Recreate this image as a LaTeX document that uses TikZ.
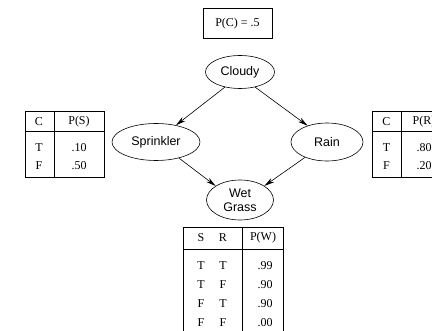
\documentclass[tikz,border=0pt]{standalone}
\usepackage{fontspec}
\setmainfont{Liberation Serif}
\newfontfamily\hv{Liberation Sans}
\usetikzlibrary{arrows.meta,shapes.geometric}
\begin{document}
\begin{tikzpicture}[x=1pt,y=-1pt,
  ell/.style={draw, ellipse, line width=0.6pt, inner sep=0pt, font=\hv\fontsize{12.5}{14}\selectfont, align=center},
  tbox/.style={draw, line width=0.6pt, inner sep=0pt},
  cell/.style={inner sep=0pt, font=\fontsize{12}{13}\selectfont},
  rule/.style={line width=0.6pt},
  link/.style={line width=0.6pt, -{Stealth[length=10pt,width=5pt]}}]
\useasboundingbox (0,0) rectangle (432,331);
\clip (0,0) rectangle (432,331);

% prior of Cloudy
\node[tbox, minimum width=69, minimum height=30, font=\fontsize{12}{13}\selectfont] (pc) at (237.5,23.5) {P(C) = .5};

% network nodes
\node[ell, minimum width=69, minimum height=33] (cloudy) at (240,72) {Cloudy};
\node[ell, minimum width=88, minimum height=37] (spr) at (156,142) {Sprinkler};
\node[ell, minimum width=72, minimum height=38] (rain) at (327,142) {Rain};
\node[ell, minimum width=67, minimum height=40] (wet) at (240,200) {Wet\\Grass};

\draw[link] (cloudy.-135) -- (spr.40);
\draw[link] (cloudy.-45) -- (rain.140);
\draw[link] (spr.-35) -- (wet.150);
\draw[link] (rain.-145) -- (wet.30);

% table for Sprinkler
\node[tbox, minimum width=79, minimum height=66, anchor=north west] (ts) at (24.5,111) {};
\coordinate (tsh) at (24.5,131.5);
\coordinate (tsv) at (54.5,111);
\draw[rule] (tsh) -- (tsh -| ts.east);
\draw[rule] (tsv) -- (tsv |- ts.south);
\node[cell] (ts1) at (39,121.5) {C};
\node[cell] (ts2) at (79,121.5) {P(S)};
\node[cell] (ts3) at (39,147.5) {T};
\node[cell] (ts4) at (79,147.5) {.10};
\node[cell] (ts5) at (39,166) {F};
\node[cell] (ts6) at (79,166) {.50};

% table for Rain
\node[tbox, minimum width=79, minimum height=66, anchor=north west] (tr) at (372,111) {};
\coordinate (trh) at (372,131.5);
\coordinate (trv) at (401,111);
\draw[rule] (trh) -- (trh -| tr.east);
\draw[rule] (trv) -- (trv |- tr.south);
\node[cell] (tr1) at (386.5,121.5) {C};
\node[cell, anchor=west] (tr2) at (412.5,121.5) {P(R)};
\node[cell] (tr3) at (386.5,147.5) {T};
\node[cell, anchor=west] (tr4) at (416.5,147.5) {.80};
\node[cell] (tr5) at (386.5,166) {F};
\node[cell, anchor=west] (tr6) at (416.5,166) {.20};

% table for Wet Grass
\node[tbox, minimum width=100, minimum height=120, anchor=north west] (tw) at (182.5,227) {};
\coordinate (twh) at (182.5,249);
\coordinate (twv) at (242.5,227);
\draw[rule] (twh) -- (twh -| tw.east);
\draw[rule] (twv) -- (twv |- tw.south);
\node[cell] (w0a) at (201,238) {S};
\node[cell] (w0b) at (223,238) {R};
\node[cell] (w0c) at (263,238) {P(W)};
\node[cell] (w1a) at (201,266) {T};
\node[cell] (w1b) at (223,266) {T};
\node[cell] (w1c) at (265,266) {.99};
\node[cell] (w2a) at (201,285) {T};
\node[cell] (w2b) at (223,285) {F};
\node[cell] (w2c) at (265,285) {.90};
\node[cell] (w3a) at (201,304) {F};
\node[cell] (w3b) at (223,304) {T};
\node[cell] (w3c) at (265,304) {.90};
\node[cell] (w4a) at (201,322.5) {F};
\node[cell] (w4b) at (223,322.5) {F};
\node[cell] (w4c) at (265,322.5) {.00};
\end{tikzpicture}
\end{document}
